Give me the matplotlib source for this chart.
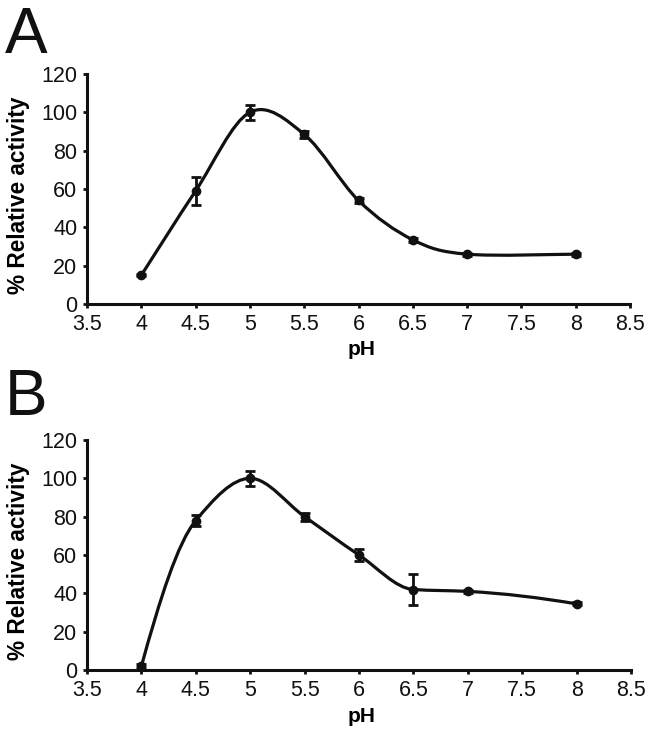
import numpy as np
import matplotlib
matplotlib.use("Agg")
import matplotlib.pyplot as plt
from matplotlib.path import Path
from matplotlib.patches import PathPatch

plt.rcParams['font.family'] = ['Liberation Sans', 'DejaVu Sans']

ph = [4, 4.5, 5, 5.5, 6, 6.5, 7, 8]
act_a = [15, 59, 100, 88.5, 54, 33.5, 26, 26]
err_a = [0.5, 7.5, 4, 2, 1.5, 1, 0.8, 0.8]
act_b = [2, 78, 100, 80, 60, 42, 41, 34.5]
err_b = [1, 3, 4, 2, 3, 8, 1, 0.8]
xticks = [3.5, 4, 4.5, 5, 5.5, 6, 6.5, 7, 7.5, 8, 8.5]
yticks = [0, 20, 40, 60, 80, 100, 120]
panel_labels = ['A', 'B']


def tangents_catmull(x, y):
    x = np.asarray(x, float); y = np.asarray(y, float)
    n = len(x)
    tx = np.zeros(n); ty = np.zeros(n)
    for i in range(n):
        i0 = max(i - 1, 0); i1 = min(i + 1, n - 1)
        tx[i] = (x[i1] - x[i0]) / 6.0
        ty[i] = (y[i1] - y[i0]) / 6.0
    return tx, ty


def pchip_slopes(x, y):
    x = np.asarray(x, float); y = np.asarray(y, float)
    h = np.diff(x); d = np.diff(y) / h
    n = len(x)
    m = np.zeros(n)
    for k in range(1, n - 1):
        if d[k - 1] * d[k] <= 0:
            m[k] = 0
        else:
            w1 = 2 * h[k] + h[k - 1]; w2 = h[k] + 2 * h[k - 1]
            m[k] = (w1 + w2) / (w1 / d[k - 1] + w2 / d[k])
    m[0] = ((2 * h[0] + h[1]) * d[0] - h[0] * d[1]) / (h[0] + h[1])
    if np.sign(m[0]) != np.sign(d[0]):
        m[0] = 0
    m[-1] = ((2 * h[-1] + h[-2]) * d[-1] - h[-1] * d[-2]) / (h[-1] + h[-2])
    if np.sign(m[-1]) != np.sign(d[-1]):
        m[-1] = 0
    return m


def smooth_path(x, y, method):
    x = np.asarray(x, float); y = np.asarray(y, float)
    verts = [(x[0], y[0])]
    codes = [Path.MOVETO]
    if method == 'catmull':
        tx, ty = tangents_catmull(x, y)
        for i in range(len(x) - 1):
            verts += [(x[i] + tx[i], y[i] + ty[i]),
                      (x[i + 1] - tx[i + 1], y[i + 1] - ty[i + 1]),
                      (x[i + 1], y[i + 1])]
            codes += [Path.CURVE4] * 3
    else:
        m = pchip_slopes(x, y)
        for i in range(len(x) - 1):
            h = x[i + 1] - x[i]
            verts += [(x[i] + h / 3, y[i] + m[i] * h / 3),
                      (x[i + 1] - h / 3, y[i + 1] - m[i + 1] * h / 3),
                      (x[i + 1], y[i + 1])]
            codes += [Path.CURVE4] * 3
    return Path(verts, codes)


fig = plt.figure(figsize=(6.58, 7.35), dpi=100)
W, H = 658, 735
boxes = [(87, 630, 74, 304), (87, 631, 440, 670)]
datasets = [(act_a, err_a, 'catmull'), (act_b, err_b, 'pchip')]
label_pos = [(5, 53), (5, 415)]
xlabel_y = [350, 717]

for k in range(2):
    l, r, t, b = boxes[k]
    ax = fig.add_axes([l / W, 1 - b / H, (r - l) / W, (b - t) / H])
    act, err, meth = datasets[k]
    ax.add_patch(PathPatch(smooth_path(ph, act, meth), fill=False, lw=2.3,
                           edgecolor='#111111', capstyle='round', joinstyle='round'))
    ax.errorbar(ph, act, yerr=err, fmt='o', color='#111111', ms=6,
                elinewidth=2, capsize=3.5, capthick=2)
    ax.set_xlim(3.5, 8.5)
    ax.set_ylim(0, 120)
    ax.set_xticks(xticks)
    ax.set_xticklabels([('%g' % v) for v in xticks])
    ax.set_yticks(yticks)
    ax.spines['top'].set_visible(False)
    ax.spines['right'].set_visible(False)
    for s in ['left', 'bottom']:
        ax.spines[s].set_linewidth(2.2)
        ax.spines[s].set_color('#111111')
    ax.tick_params(axis='both', direction='out', length=3, width=2,
                   labelsize=15.5, colors='#111111', pad=4)
    ax.set_ylabel('% Relative activity', fontsize=16.3, fontweight='bold')
    ax.yaxis.set_label_coords(-(l - 19) / (r - l), 0.5 - 6 / (b - t))
    ax.set_xlabel('pH', fontsize=15, fontweight='bold')
    ax.xaxis.set_label_coords((362 - l) / (r - l), -(xlabel_y[k] - b) / (b - t))
    ax.xaxis.label.set_va('center')
    ax.yaxis.label.set_va('center')
    fig.text(label_pos[k][0] / W, 1 - label_pos[k][1] / H, panel_labels[k],
             fontsize=46, ha='left', va='baseline', color='#111111')

fig.savefig('out.png', dpi=100)
